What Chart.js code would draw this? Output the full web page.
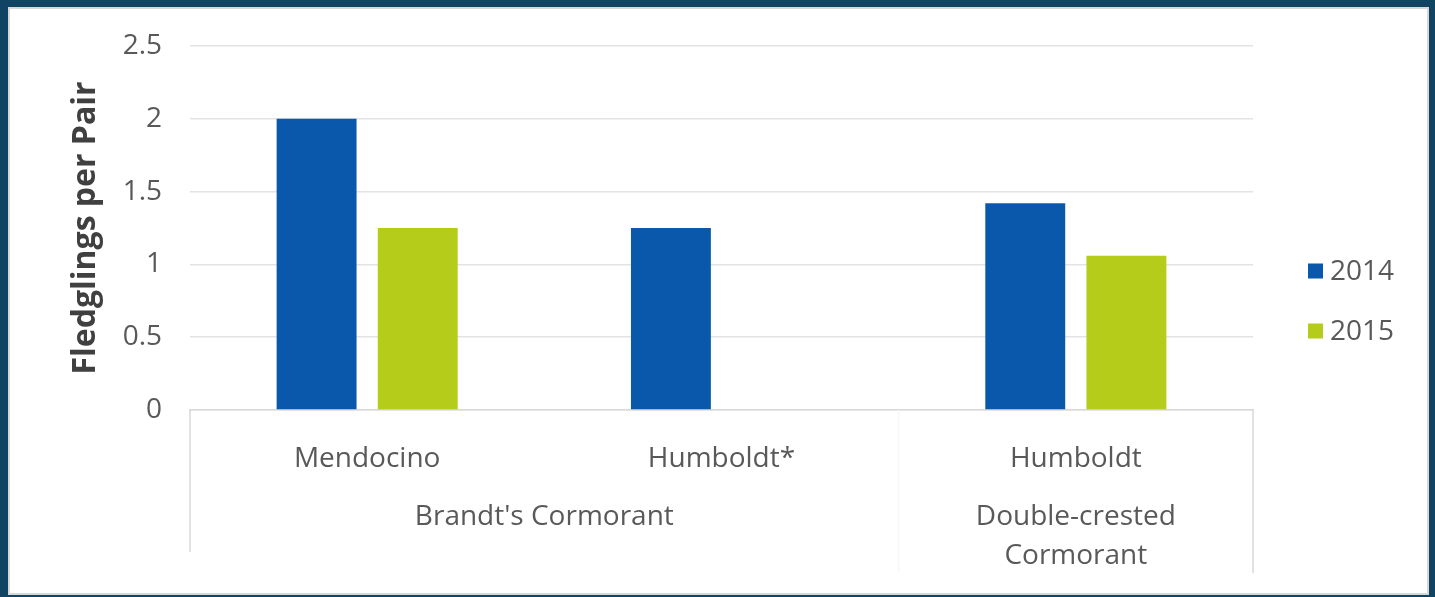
<!DOCTYPE html>
<html>
<head>
<meta charset="utf-8">
<title>Fledglings per Pair</title>
<script src="https://cdn.jsdelivr.net/npm/chart.js@4/dist/chart.umd.min.js"></script>
<style>
    html, body { margin: 0; padding: 0; }
    body { width: 1435px; height: 597px; background: #114463; position: relative; overflow: hidden; }
    #panel { position: absolute; left: 8px; top: 7px; width: 1417px; height: 584px; background: #fff; border: 2px solid #d8d8d8; }
    #chart { position: absolute; left: 0; top: 0; }
</style>
</head>
<body>
<div id="panel"></div>
<canvas id="chart" width="1435" height="597"></canvas>
<script>
// colonies (first level of the category axis)
const categories = ["Mendocino", "Humboldt*", "Humboldt"];
// species (second level), each covering a run of colonies
const groupNames = [["Brandt's Cormorant"], ["Double-crested", "Cormorant"]];
const groupSpans = [[0, 1], [2, 2]];
const seriesNames = ["2014", "2015"];
const values2014 = [2.0, 1.25, 1.42];
const values2015 = [1.25, null, 1.06];
const yTicks = [0, 0.5, 1, 1.5, 2, 2.5];
const yTickLabels = ["0", "0.5", "1", "1.5", "2", "2.5"];

const FONT = "'Open Sans', sans-serif";
const TEXT = "#595959";
const LINE = "#d9d9d9";

// species labels under the colonies + the tick separators of the two-level axis
const groupAxis = {
    id: "groupAxis",
    afterDraw(chart){
        const ctx = chart.ctx;
        const x = chart.scales.x;
        const area = chart.chartArea;
        ctx.save();
        ctx.font = "28px " + FONT;
        ctx.fillStyle = TEXT;
        ctx.textAlign = "center";
        ctx.textBaseline = "middle";
        groupSpans.forEach(function(span, i){
            let cx = (x.getPixelForValue(span[0]) + x.getPixelForValue(span[1])) / 2;
            groupNames[i].forEach(function(line, j){
                ctx.fillText(line, cx, area.bottom + 107 + j * 39);
            });
        });
        ctx.strokeStyle = LINE;
        ctx.lineWidth = 1.5;
        ctx.beginPath();
        ctx.moveTo(area.left, area.bottom);
        ctx.lineTo(area.left, area.bottom + 142);
        ctx.moveTo(area.right, area.bottom);
        ctx.lineTo(area.right, area.bottom + 163);
        ctx.stroke();
        // boundary between the species, barely visible
        let half = (x.getPixelForValue(1) + x.getPixelForValue(2)) / 2;
        ctx.strokeStyle = "#f7f7f7";
        ctx.beginPath();
        ctx.moveTo(half, area.bottom);
        ctx.lineTo(half, area.bottom + 163);
        ctx.stroke();
        ctx.restore();
    }
};

// legend to the right of the plot, centred on the whole plot area
const sideLegend = {
    id: "sideLegend",
    afterDraw(chart){
        const ctx = chart.ctx;
        const area = chart.chartArea;
        ctx.save();
        ctx.font = "28px " + FONT;
        ctx.textBaseline = "middle";
        ctx.textAlign = "left";
        chart.data.datasets.forEach(function(ds, i){
            let cy = 271 + i * 60;
            ctx.fillStyle = ds.backgroundColor;
            ctx.fillRect(area.right + 55, cy - 7.5, 15, 15);
            ctx.fillStyle = TEXT;
            ctx.fillText(ds.label, area.right + 77, cy + 1);
        });
        ctx.restore();
    }
};

new Chart(document.getElementById("chart"), {
    type: "bar",
    data: {
        labels: categories,
        datasets: [
            {label: seriesNames[0], data: values2014, backgroundColor: "#0a58ac"},
            {label: seriesNames[1], data: values2015, backgroundColor: "#b5cc1a"}
        ]
    },
    options: {
        responsive: false,
        animation: false,
        devicePixelRatio: 1,
        layout: {padding: {top: 46, right: 182, bottom: 0, left: 0}},
        categoryPercentage: 0.571,
        barPercentage: 0.79,
        plugins: {legend: {display: false}, tooltip: {enabled: false}},
        scales: {
            x: {
                grid: {display: false},
                border: {display: true, color: LINE, width: 1.5},
                ticks: {font: {family: FONT, size: 28}, color: TEXT, padding: 24, maxRotation: 0},
                afterFit(scale){ scale.height = 187; }
            },
            y: {
                min: 0,
                max: 2.5,
                afterBuildTicks(scale){ scale.ticks = yTicks.map(v => ({value: v})); },
                grid: {color: "#e3e3e3", lineWidth: 1.5, drawTicks: false},
                border: {display: false},
                ticks: {
                    font: {family: FONT, size: 28},
                    color: TEXT,
                    padding: 28,
                    callback: (v, i) => yTickLabels[i]
                },
                title: {
                    display: true,
                    text: "Fledglings per Pair",
                    font: {family: FONT, size: 32, weight: "bold"},
                    color: "#404040",
                    padding: {top: 67, bottom: 0}
                },
                afterFit(scale){ scale.width = 190; }
            }
        }
    },
    plugins: [groupAxis, sideLegend]
});
</script>
</body>
</html>
